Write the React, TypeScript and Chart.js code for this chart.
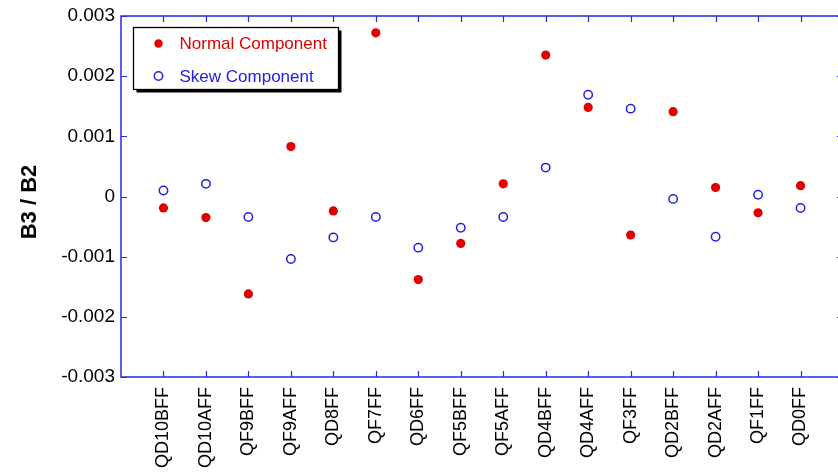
import React, { useEffect, useRef } from "react";
import { Chart, registerables } from "chart.js";

Chart.register(...registerables);

// Magnet names along the horizontal axis
const magnets = [
  "QD10BFF", "QD10AFF", "QF9BFF", "QF9AFF", "QD8FF", "QF7FF", "QD6FF", "QF5BFF",
  "QF5AFF", "QD4BFF", "QD4AFF", "QF3FF", "QD2BFF", "QD2AFF", "QF1FF", "QD0FF",
];

// Sextupole-to-quadrupole ratio, normal and skew parts
const normalB3 = [
  -0.00019, -0.00035, -0.00162, 0.00083, -0.00024, 0.00272, -0.00138, -0.00078,
  0.00021, 0.00235, 0.00148, -0.00064, 0.00141, 0.00015, -0.00027, 0.00018,
];
const skewB3 = [
  0.0001, 0.00021, -0.00034, -0.00104, -0.00068, -0.00034, -0.00085, -0.00052,
  -0.00034, 0.00048, 0.00169, 0.00146, -0.00004, -0.00067, 0.00003, -0.00019,
];

const yTicks = [-0.003, -0.002, -0.001, 0, 0.001, 0.002, 0.003];
const yTickText = ["-0.003", "-0.002", "-0.001", "0", "0.001", "0.002", "0.003"];

const RED = "#e00000";
const BLUE = "#2020e6";
const AXIS = "#2828e8";
const FONT = "'Liberation Sans', Arial, sans-serif";

// Frame, inward ticks on all four sides, axis title and boxed legend
const framePlugin = {
  id: "frame",
  afterDraw(chart: any) {
    const { ctx, chartArea: a, scales } = chart;
    const xs = scales.x;
    const ys = scales.y;
    const tl = 6;
    ctx.save();
    ctx.strokeStyle = AXIS;
    ctx.lineWidth = 1.5;
    ctx.strokeRect(a.left, a.top, a.right - a.left, a.bottom - a.top);
    ctx.lineWidth = 1.2;
    ctx.beginPath();
    magnets.forEach((_, i) => {
      const px = Math.round(xs.getPixelForValue(i + 1)) + 0.5;
      ctx.moveTo(px, a.bottom);
      ctx.lineTo(px, a.bottom - tl);
      ctx.moveTo(px, a.top);
      ctx.lineTo(px, a.top + tl);
    });
    yTicks.forEach((v) => {
      const py = Math.round(ys.getPixelForValue(v)) + 0.5;
      ctx.moveTo(a.left, py);
      ctx.lineTo(a.left + tl, py);
      ctx.moveTo(a.right, py);
      ctx.lineTo(a.right - tl, py);
    });
    ctx.stroke();

    // vertical axis title
    ctx.save();
    ctx.translate(30, 202);
    ctx.rotate(-Math.PI / 2);
    ctx.fillStyle = "#000";
    ctx.font = `bold 22px ${FONT}`;
    ctx.textAlign = "center";
    ctx.textBaseline = "middle";
    ctx.fillText("B3 / B2", 0, 0);
    ctx.restore();

    // legend box with drop shadow
    const bx = 133.5, by = 27.5, bw = 205, bh = 62;
    ctx.fillStyle = "#000";
    ctx.fillRect(bx + 3, by + 3, bw, bh);
    ctx.fillStyle = "#fff";
    ctx.fillRect(bx, by, bw, bh);
    ctx.strokeStyle = "#000";
    ctx.lineWidth = 1.3;
    ctx.strokeRect(bx, by, bw, bh);

    ctx.font = `17px ${FONT}`;
    ctx.textAlign = "left";
    ctx.textBaseline = "middle";
    chart.data.datasets.forEach((ds: any, i: number) => {
      const cy = 43.5 + i * 32.5;
      ctx.beginPath();
      ctx.arc(158.5, cy, 4.2, 0, Math.PI * 2);
      if (i === 0) {
        ctx.fillStyle = RED;
        ctx.fill();
      } else {
        ctx.strokeStyle = BLUE;
        ctx.lineWidth = 1.5;
        ctx.stroke();
      }
      ctx.fillStyle = i === 0 ? RED : BLUE;
      ctx.fillText(ds.label, 179.5, cy + 1);
    });
    ctx.restore();
  },
};

export default function App() {
  const ref = useRef<HTMLCanvasElement>(null);

  useEffect(() => {
    const canvas = ref.current;
    if (!canvas) return;
    const chart = new Chart(canvas, {
      type: "scatter",
      data: {
        datasets: [
          {
            label: "Normal Component",
            data: normalB3.map((v, i) => ({ x: i + 1, y: v })),
            pointStyle: "circle",
            pointRadius: 4.6,
            backgroundColor: RED,
            borderColor: RED,
            borderWidth: 0,
          },
          {
            label: "Skew Component",
            data: skewB3.map((v, i) => ({ x: i + 1, y: v })),
            pointStyle: "circle",
            pointRadius: 4.2,
            backgroundColor: "rgba(0,0,0,0)",
            borderColor: BLUE,
            borderWidth: 1.5,
          },
        ],
      },
      options: {
        responsive: false,
        animation: false,
        devicePixelRatio: 1,
        layout: { autoPadding: false, padding: { top: 16, right: 0, left: 0, bottom: 0 } },
        plugins: { legend: { display: false }, tooltip: { enabled: false } },
        scales: {
          x: {
            type: "linear",
            min: 0,
            max: 17,
            grid: { display: false, drawTicks: false },
            border: { display: false },
            afterFit: (s: any) => {
              s.height = 97;
              s.paddingLeft = 0;
              s.paddingRight = 0;
            },
            afterBuildTicks: (s: any) => {
              s.ticks = magnets.map((_, i) => ({ value: i + 1 }));
            },
            ticks: {
              autoSkip: false,
              minRotation: 90,
              maxRotation: 90,
              padding: 10,
              color: "#000",
              font: { family: FONT, size: 18 },
              callback: (v: any) => magnets[Number(v) - 1] ?? "",
            },
          },
          y: {
            min: -0.003,
            max: 0.003,
            grid: { display: false, drawTicks: false },
            border: { display: false },
            afterFit: (s: any) => {
              s.width = 121;
              s.paddingTop = 0;
              s.paddingBottom = 0;
            },
            afterBuildTicks: (s: any) => {
              s.ticks = yTicks.map((v) => ({ value: v }));
            },
            ticks: {
              padding: 6,
              color: "#000",
              font: { family: FONT, size: 19 },
              callback: (v: any) => {
                const k = yTicks.findIndex((t) => Math.abs(t - Number(v)) < 1e-9);
                return k >= 0 ? yTickText[k] : "";
              },
            },
          },
        },
      },
      plugins: [framePlugin],
    });
    return () => chart.destroy();
  }, []);

  return (
    <div
      style={{
        position: "fixed",
        left: 0,
        top: 0,
        width: 838,
        height: 474,
        overflow: "hidden",
        background: "#fff",
      }}
    >
      <canvas ref={ref} width={843} height={474} style={{ display: "block" }} />
    </div>
  );
}
